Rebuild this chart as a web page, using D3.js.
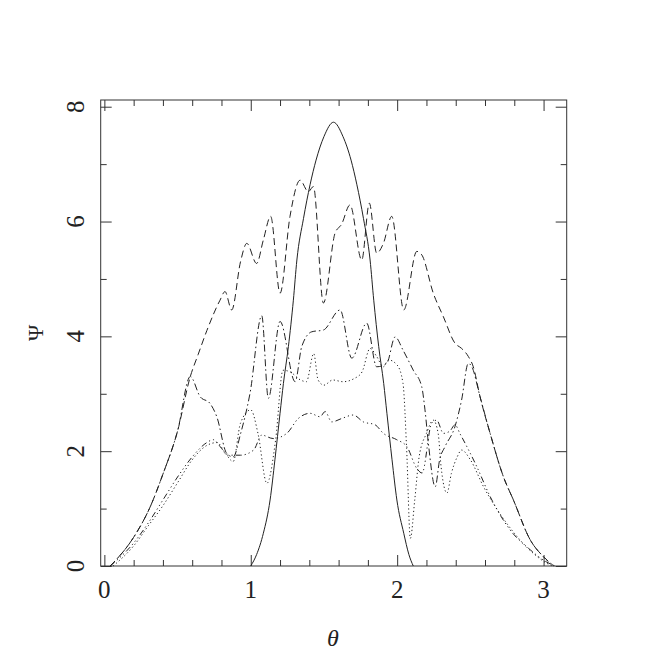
<!DOCTYPE html>
<html>
<head>
<meta charset="utf-8">
<script src="https://cdn.jsdelivr.net/npm/d3@7"></script>
<style>
  body { margin: 0; background: #fff; }
  svg text { font-family: "Liberation Serif", "DejaVu Serif", serif; fill: #222; }
  .axis path { stroke: #333; stroke-width: 1; }
  .axis line { stroke: #333; stroke-width: 1; }
</style>
</head>
<body>
<svg id="chart" width="667" height="667"></svg>
<script>
// values (theta, Psi)
const solidTheta = [1.0, 1.04, 1.086, 1.132, 1.165, 1.20, 1.223, 1.257, 1.291, 1.315, 1.36, 1.405, 1.446, 1.50, 1.565, 1.63, 1.685, 1.725, 1.77, 1.815, 1.84, 1.874, 1.908, 1.93, 1.965, 1.998, 2.045, 2.08, 2.11];
const solidPsi   = [0,   0.2,  0.57,  1.15,  1.85,  2.66, 3.18,  3.82,  4.63,  5.33,  6.05, 6.64,  7.07,  7.48, 7.73,  7.48, 7.07,  6.64,  6.05, 5.33,  4.63, 3.82,  3.18,  2.66, 1.85,  1.15,  0.57,  0.2,  0];

const dashTheta = [0.04, 0.2, 0.313, 0.4, 0.5, 0.587, 0.64, 0.7, 0.79, 0.824, 0.87, 0.93, 0.973, 1.04, 1.086, 1.136, 1.20, 1.268, 1.337, 1.393, 1.428, 1.496, 1.576, 1.62, 1.678, 1.758, 1.81, 1.86, 1.906, 1.963, 2.045, 2.134, 2.168, 2.247, 2.316, 2.395, 2.44, 2.486, 2.52, 2.566, 2.635, 2.725, 2.794, 2.91, 3.0, 3.07];
const dashPsi   = [0,    0.5, 1.03,  1.6, 2.35, 3.30, 3.68, 4.1, 4.63, 4.78,  4.46, 5.3,  5.62,  5.27, 5.68,  6.09,  4.75, 6.09,  6.72,  6.52,  6.61,  4.58,  5.80,  5.95, 6.29,  5.33,  6.32, 5.45, 5.62,  6.09,  4.46,  5.48,  5.42,  4.75,  4.34,  3.88,  3.79, 3.65,  3.47, 2.95,  2.31,  1.56,  1.15,  0.45, 0.16, 0];

const dashDotTheta = [0.04, 0.2, 0.313, 0.4, 0.5, 0.587, 0.654, 0.722, 0.768, 0.836, 0.88, 0.93, 0.995, 1.075, 1.12, 1.20, 1.303, 1.348, 1.417, 1.496, 1.61, 1.69, 1.792, 1.86, 1.929, 1.986, 2.04, 2.11, 2.168, 2.19, 2.213, 2.26, 2.29, 2.327, 2.395, 2.44, 2.486, 2.51, 2.566, 2.635, 2.725, 2.794, 2.91, 3.0, 3.07];
const dashDotPsi   = [0,    0.5, 1.03,  1.6, 2.35, 3.30,  2.95,  2.83,  2.60,  1.96,  1.90, 2.3,  3.01,  4.36,  2.92, 4.26, 3.21,  3.82,  4.08,  4.11,  4.46, 3.62, 4.23,  3.47, 3.53,  3.99,  3.76, 3.41, 3.12,  2.72, 2.14,  1.38, 1.85, 2.08,  2.43,  2.89, 3.53,  3.47, 2.95,  2.31,  1.56,  1.15,  0.45, 0.16, 0];

const dotTheta = [0.06, 0.2, 0.3, 0.4, 0.5, 0.6, 0.7, 0.77, 0.83, 0.88, 0.93, 1.0, 1.05, 1.11, 1.17, 1.22, 1.27, 1.34, 1.38, 1.43, 1.46, 1.50, 1.56, 1.63, 1.71, 1.76, 1.815, 1.86, 1.906, 1.94, 2.0, 2.04, 2.065, 2.09, 2.12, 2.15, 2.2, 2.247, 2.28, 2.30, 2.34, 2.37, 2.41, 2.44, 2.5, 2.59, 2.70, 2.82, 2.93, 3.02, 3.06];
const dotPsi   = [0,    0.35, 0.7, 1.05, 1.45, 1.85, 2.1, 2.15, 1.95, 1.82, 2.49, 2.72, 2.3, 1.44, 2.2, 3.41, 3.38, 3.24, 3.21, 3.70, 3.24, 3.15, 3.24, 3.21, 3.27, 3.38, 3.79, 3.65, 3.47, 3.59, 3.50, 3.18, 2.02, 0.48, 1.15, 1.9, 2.31, 2.54, 2.31, 1.73, 1.27, 1.61, 1.90, 2.02, 1.85, 1.38, 0.92, 0.51, 0.22, 0.05, 0];

const dddTheta = [0.04, 0.2, 0.3, 0.4, 0.5, 0.6, 0.7, 0.744, 0.80, 0.84, 0.93, 1.02, 1.075, 1.154, 1.246, 1.325, 1.405, 1.473, 1.508, 1.553, 1.622, 1.70, 1.769, 1.849, 1.906, 1.997, 2.066, 2.134, 2.17, 2.236, 2.27, 2.316, 2.36, 2.395, 2.43, 2.544, 2.635, 2.771, 2.91, 3.02, 3.08];
const dddPsi   = [0,    0.4, 0.75, 1.15, 1.55, 1.9, 2.15, 2.2,  2.05, 1.93, 1.93, 2.02, 2.28,  2.22,  2.31,  2.57,  2.66,  2.60,  2.69,  2.51,  2.57,  2.63, 2.51,  2.46,  2.31,  2.20,  2.08,  1.70,  1.62, 2.49,  2.54, 2.31,  2.35, 2.46,  2.3,  1.73,  1.21,  0.63,  0.28, 0.07, 0];

const xMajor = [0, 1, 2, 3];
const yMajor = [0, 2, 4, 6, 8];

const series = [
  { theta: solidTheta,   psi: solidPsi,   dash: null },
  { theta: dashTheta,    psi: dashPsi,    dash: "7,4" },
  { theta: dashDotTheta, psi: dashDotPsi, dash: "7,3,1.5,3" },
  { theta: dotTheta,     psi: dotPsi,     dash: "1.2,2.6" },
  { theta: dddTheta,     psi: dddPsi,     dash: "6,3,1.2,3,1.2,3,1.2,3" }
];

const svg = d3.select("#chart");
const plotL = 100.7, plotR = 566.7, plotT = 100, plotB = 566;

const x = d3.scaleLinear().domain([-0.025, 3.158]).range([plotL, plotR]);
const y = d3.scaleLinear().domain([0, 8.117]).range([plotB, plotT]);

const xMinor = d3.range(0, 3.15, 0.2).filter(v => Math.abs(v - Math.round(v)) > 1e-6);
const yMinor = [1, 3, 5, 7];

// frame
svg.append("rect")
  .attr("x", plotL).attr("y", plotT)
  .attr("width", plotR - plotL).attr("height", plotB - plotT)
  .attr("fill", "none").attr("stroke", "#333").attr("stroke-width", 1);

function addAxis(axis, tx, ty) {
  const g = svg.append("g").attr("class", "axis").attr("transform", `translate(${tx},${ty})`).call(axis);
  g.select(".domain").remove();
  return g;
}

// bottom & top ticks (inward)
addAxis(d3.axisBottom(x).tickValues(xMajor).tickSize(-11).tickFormat(""), 0, plotB);
addAxis(d3.axisBottom(x).tickValues(xMinor).tickSize(-6).tickFormat(""), 0, plotB);
addAxis(d3.axisTop(x).tickValues(xMajor).tickSize(-11).tickFormat(""), 0, plotT);
addAxis(d3.axisTop(x).tickValues(xMinor).tickSize(-6).tickFormat(""), 0, plotT);
// left & right ticks (inward)
addAxis(d3.axisLeft(y).tickValues(yMajor).tickSize(-11).tickFormat(""), plotL, 0);
addAxis(d3.axisLeft(y).tickValues(yMinor).tickSize(-6).tickFormat(""), plotL, 0);
addAxis(d3.axisRight(y).tickValues(yMajor).tickSize(-11).tickFormat(""), plotR, 0);
addAxis(d3.axisRight(y).tickValues(yMinor).tickSize(-6).tickFormat(""), plotR, 0);

// tick labels
svg.append("g").selectAll("text").data(xMajor).join("text")
  .attr("x", d => x(d)).attr("y", 598)
  .attr("text-anchor", "middle")
  .attr("font-size", 25)
  .text(d => d);

svg.append("g").selectAll("text").data(yMajor).join("text")
  .attr("transform", d => `translate(84,${y(d)}) rotate(-90)`)
  .attr("text-anchor", "middle")
  .attr("font-size", 25)
  .text(d => d);

// axis titles
svg.append("text")
  .attr("transform", `translate(43,333) rotate(-90)`)
  .attr("text-anchor", "middle")
  .attr("font-size", 22)
  .text("Ψ");

svg.append("text")
  .attr("x", 333).attr("y", 646)
  .attr("text-anchor", "middle")
  .attr("font-size", 24)
  .attr("font-style", "italic")
  .text("θ");

// curves
const line = d3.line()
  .x(d => x(d[0]))
  .y(d => y(d[1]))
  .curve(d3.curveMonotoneX);

svg.append("g").selectAll("path").data(series).join("path")
  .attr("d", s => line(d3.zip(s.theta, s.psi)))
  .attr("fill", "none")
  .attr("stroke", "#222")
  .attr("stroke-width", 1)
  .attr("stroke-dasharray", s => s.dash);
</script>
</body>
</html>
